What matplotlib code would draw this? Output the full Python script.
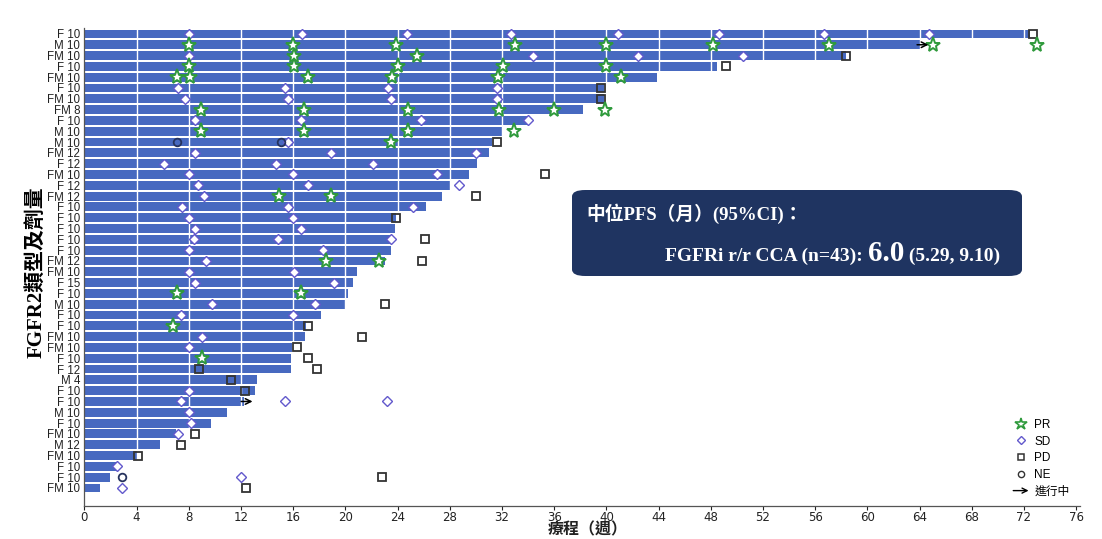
import matplotlib
matplotlib.use("Agg")
import matplotlib.pyplot as plt
from matplotlib.lines import Line2D
from matplotlib.patches import FancyBboxPatch, FancyArrowPatch
from matplotlib.legend_handler import HandlerBase

# Swimmer plot: one bar per patient, top to bottom
labels = ["F 10", "M 10", "FM 10", "F 10", "FM 10", "F 10", "FM 10", "FM 8", "F 10", "M 10",
          "M 10", "FM 12", "F 12", "FM 10", "F 12", "FM 12", "F 10", "F 10", "F 10", "F 10",
          "F 10", "FM 12", "FM 10", "F 15", "F 10", "M 10", "F 10", "F 10", "FM 10", "FM 10",
          "F 10", "F 12", "M 4", "F 10", "F 10", "M 10", "F 10", "FM 10", "M 12", "FM 10",
          "F 10", "F 10", "FM 10"]

# treatment duration in weeks
duration = [72.5, 64.0, 58.4, 48.5, 43.9, 39.8, 39.8, 38.2, 34.0, 32.0,
            31.2, 31.0, 30.1, 29.5, 28.0, 27.4, 26.2, 23.9, 23.8, 23.5,
            23.5, 23.0, 20.9, 20.6, 20.2, 20.0, 18.1, 17.0, 16.9, 15.9,
            15.8, 15.8, 13.2, 13.1, 12.2, 10.9, 9.7, 7.0, 5.8, 4.0,
            2.6, 2.0, 1.2]

# still on treatment
ongoing = [1, 34]

pr_weeks = [[], [8.0, 16.0, 23.9, 33.0, 40.0, 48.2, 57.1, 65.0, 73.0], [16.1, 25.5],
            [8.0, 16.1, 24.0, 32.1, 40.0], [7.1, 8.1, 17.1, 23.6, 31.7, 41.1], [], [],
            [8.9, 16.8, 24.8, 31.8, 36.0, 39.9], [], [8.9, 16.8, 24.8, 32.9],
            [23.5], [], [], [], [], [14.9, 18.9], [], [], [], [],
            [], [18.5, 22.6], [], [], [7.1, 16.6], [], [], [6.8], [], [],
            [9.0], [], [], [], [], [], [], [], [], [],
            [], [], []]

sd_weeks = [[8.0, 16.7, 24.7, 32.7, 40.9, 48.6, 56.7, 64.7], [], [8.0, 34.4, 42.4, 50.5],
            [], [], [7.2, 15.4, 23.3, 31.6], [7.7, 15.6, 23.5, 31.6], [],
            [8.5, 16.6, 25.8, 34.0], [],
            [15.6], [8.5, 18.9, 30.0], [6.1, 14.7, 22.1], [8.0, 16.0, 27.0], [8.7, 17.1, 28.7],
            [9.2], [7.5, 15.6, 25.2], [8.0, 16.0], [8.5, 16.6], [8.4, 14.8, 23.5],
            [8.0, 18.3], [9.3], [8.0, 16.1], [8.5, 19.1], [], [9.8, 17.7], [7.4, 16.0], [],
            [9.0], [8.0],
            [], [], [], [8.0], [7.4, 15.4, 23.2], [8.0], [8.2], [7.2], [], [],
            [2.5], [12.0], [2.9]]

pd_weeks = [[72.7], [], [58.4], [49.2], [], [39.6], [39.6], [], [], [],
            [31.6], [], [], [35.3], [], [30.0], [], [23.9], [], [26.1],
            [], [25.9], [], [], [], [23.0], [], [17.1], [21.3], [16.3],
            [17.1], [8.8, 17.8], [11.2], [12.3], [], [], [], [8.5], [7.4], [4.1],
            [], [22.8], [12.4]]

ne_weeks = {10: [7.1, 15.1], 41: [2.9]}

x_ticks = list(range(0, 80, 4))

BAR_COLOR = "#4769c0"
PR_COLOR = "#2f9a3c"
SD_COLOR = "#6259cc"
PD_COLOR = "#333333"
NE_COLOR = "#26335e"
BOX_COLOR = "#1f3461"

CJK_SANS = ["Liberation Sans", "Noto Sans CJK TC"]
CJK_SERIF = ["Liberation Serif", "Noto Sans CJK TC"]


class ArrowHandler(HandlerBase):
    """Thin arrow for the 'ongoing' legend entry."""

    def create_artists(self, legend, orig_handle, xdescent, ydescent, width, height,
                       fontsize, trans):
        y = height / 2 - ydescent
        arrow = FancyArrowPatch((-xdescent - 2, y), (width - xdescent + 2, y),
                                arrowstyle="->", mutation_scale=9, lw=1.0,
                                color="black", transform=trans)
        return [arrow]


fig = plt.figure(figsize=(11.02, 5.39), dpi=100)
ax = fig.add_axes([84.4 / 1102, 1 - 506 / 539, (1080 - 84.4) / 1102, (506 - 28) / 539])

n = len(labels)
rows = list(range(n))
ax.barh(rows, duration, height=0.82, color=BAR_COLOR, zorder=1)

# white grid lines only show up over the bars
for t in x_ticks[1:]:
    ax.axvline(t, color="white", lw=1.0, zorder=2)

for i in rows:
    if pr_weeks[i]:
        ax.plot(pr_weeks[i], [i] * len(pr_weeks[i]), ls="none", marker="*", ms=11,
                mfc="white", mec=PR_COLOR, mew=1.4, zorder=4)
    if sd_weeks[i]:
        ax.plot(sd_weeks[i], [i] * len(sd_weeks[i]), ls="none", marker="D", ms=4.6,
                mfc="white", mec=SD_COLOR, mew=1.0, zorder=4)
    if pd_weeks[i]:
        ax.plot(pd_weeks[i], [i] * len(pd_weeks[i]), ls="none", marker="s", ms=6,
                mfc="none", mec=PD_COLOR, mew=1.3, zorder=4)
    if i in ne_weeks:
        ax.plot(ne_weeks[i], [i] * len(ne_weeks[i]), ls="none", marker="o", ms=5.5,
                mfc="none", mec=NE_COLOR, mew=1.3, zorder=4)

for i in ongoing:
    ax.annotate("", xy=(duration[i] + 0.9, i), xytext=(duration[i] - 0.4, i),
                arrowprops=dict(arrowstyle="->", color="black", lw=1.1), zorder=5)

ax.set_xlim(0, 76.3)
ax.set_ylim(n - 1 + 1.67, -0.55)
ax.set_xticks(x_ticks)
ax.tick_params(axis="x", labelsize=8.5, length=3, width=0.8, colors="#222222", pad=0.5)
ax.set_yticks(rows)
ax.set_yticklabels(labels, fontsize=8.3, family=CJK_SANS)
ax.tick_params(axis="y", length=0, pad=3, colors="#222222")
for side in ["top", "right"]:
    ax.spines[side].set_visible(False)
for side in ["left", "bottom"]:
    ax.spines[side].set_color("#555555")
    ax.spines[side].set_linewidth(0.9)

fig.text(36 / 1102, 1 - 272 / 539, "FGFR2類型及劑量", family=CJK_SERIF, fontsize=15,
         fontweight="bold", rotation=90, ha="center", va="center")
fig.text(588 / 1102, 1 - 530 / 539, "療程（週）", family=CJK_SANS, fontsize=11.5,
         fontweight="bold", ha="center", va="center", color="#222222")

# legend
handles = [
    Line2D([], [], ls="none", marker="*", ms=9, mfc="white", mec=PR_COLOR, mew=1.2),
    Line2D([], [], ls="none", marker="D", ms=4.5, mfc="white", mec=SD_COLOR, mew=1.0),
    Line2D([], [], ls="none", marker="s", ms=5, mfc="white", mec=PD_COLOR, mew=1.1),
    Line2D([], [], ls="none", marker="o", ms=4.5, mfc="white", mec=PD_COLOR, mew=1.0),
    FancyArrowPatch((0, 0), (1, 0)),
]
ax.legend(handles, ["PR", "SD", "PD", "NE", "進行中"], loc="lower right",
          bbox_to_anchor=(1078 / 1102, 1 - 506 / 539), bbox_transform=fig.transFigure,
          frameon=False, prop={"family": CJK_SANS, "size": 8.5},
          handlelength=1.3, handletextpad=0.5, labelspacing=0.4, borderpad=0.2,
          handler_map={FancyArrowPatch: ArrowHandler()})

# summary box with median PFS
box = FancyBboxPatch((572 / 1102, 1 - 276 / 539), (1022 - 572) / 1102, (276 - 190) / 539,
                     boxstyle="round,pad=0,rounding_size=0.012", transform=fig.transFigure,
                     facecolor=BOX_COLOR, edgecolor="none", zorder=10)
fig.patches.append(box)
fig.text(586 / 1102, 1 - 214 / 539, "中位PFS（月）(95%CI)：", family=CJK_SERIF, fontsize=13.5,
         fontweight="bold", color="white", va="center", ha="left", zorder=11)
t1 = fig.text(665 / 1102, 1 - 261 / 539, "FGFRi r/r CCA (n=43): ", family=CJK_SERIF,
              fontsize=14, fontweight="bold", color="white", va="baseline", ha="left", zorder=11)
t2 = fig.text(0, 0, "6.0", family=CJK_SERIF, fontsize=21, fontweight="bold", color="white",
              va="baseline", ha="left", zorder=11)
t3 = fig.text(0, 0, " (5.29, 9.10)", family=CJK_SERIF, fontsize=14, fontweight="bold",
              color="white", va="baseline", ha="left", zorder=11)

fig.canvas.draw()
r = fig.canvas.get_renderer()
inv = fig.transFigure.inverted()
x1 = inv.transform((t1.get_window_extent(r).x1, 0))[0]
t2.set_position((x1, 1 - 261 / 539))
x2 = inv.transform((t2.get_window_extent(r).x1, 0))[0]
t3.set_position((x2, 1 - 261 / 539))

fig.savefig("out.png", dpi=100, facecolor="white")
